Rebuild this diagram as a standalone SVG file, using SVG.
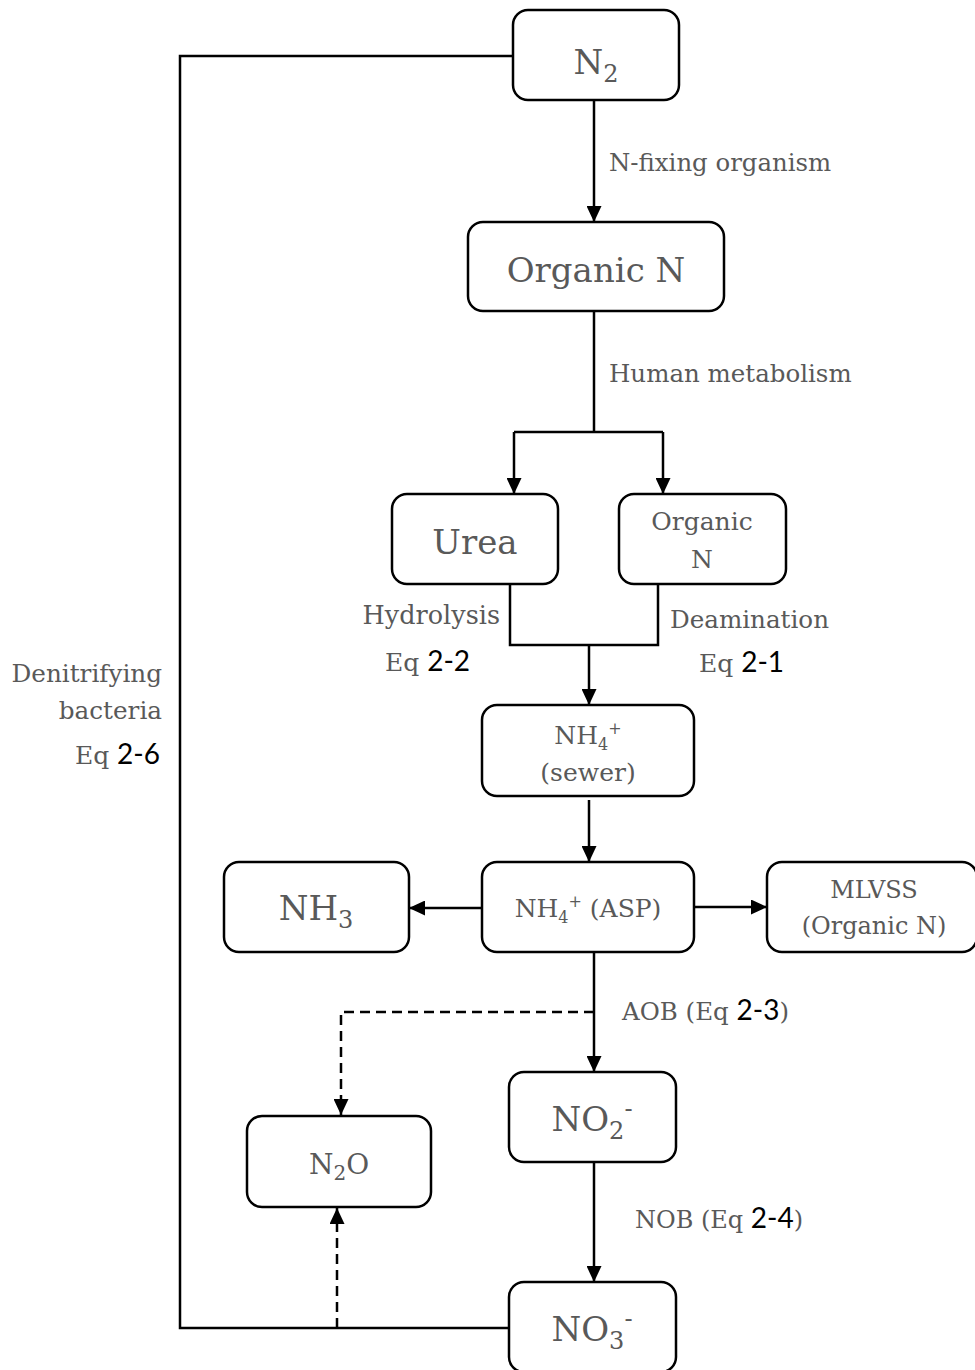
<svg xmlns="http://www.w3.org/2000/svg" width="975" height="1370" viewBox="0 0 975 1370">
<defs>
<marker id="ah" viewBox="0 0 16 15" refX="16" refY="7.5" markerWidth="16" markerHeight="15" markerUnits="userSpaceOnUse" orient="auto">
<path d="M0,0 L16,7.5 L0,15 z" fill="#000"/>
</marker>
<style>
.box{fill:#fff;stroke:#000;stroke-width:2.5}
.ln{fill:none;stroke:#000;stroke-width:2.5}
.dash{fill:none;stroke:#000;stroke-width:2.5;stroke-dasharray:10,6}
.t{font-family:"DejaVu Serif","Liberation Serif",serif;fill:#595959}
.n{font-family:Lato,"Open Sans","Liberation Sans",sans-serif;fill:#000;font-size:28px}
</style>
</defs>
<rect width="975" height="1370" fill="#fff"/>
<g id="connectors">
<path class="ln" d="M594,100 V222" marker-end="url(#ah)"/>
<path class="ln" d="M594,311 V432"/>
<path class="ln" d="M514,432 H663"/>
<path class="ln" d="M514,432 V494" marker-end="url(#ah)"/>
<path class="ln" d="M663,432 V494" marker-end="url(#ah)"/>
<path class="ln" d="M510,584 V645 H658 V584"/>
<path class="ln" d="M589,645 V705" marker-end="url(#ah)"/>
<path class="ln" d="M589,800 V862" marker-end="url(#ah)"/>
<path class="ln" d="M482,908 H409" marker-end="url(#ah)"/>
<path class="ln" d="M694,907 H767" marker-end="url(#ah)"/>
<path class="ln" d="M594,952 V1072" marker-end="url(#ah)"/>
<path class="dash" d="M594,1012 H341 V1115" marker-end="url(#ah)"/>
<path class="ln" d="M594,1162 V1282" marker-end="url(#ah)"/>
<path class="dash" d="M337,1328 V1208" marker-end="url(#ah)"/>
<path class="ln" d="M509,1328 H180 V56 H513"/>
</g>
<g id="n2">
<rect class="box" x="513" y="10" width="166" height="90" rx="15"/>
<text class="t" x="596" y="74" font-size="34" text-anchor="middle">N<tspan font-size="24" dy="8">2</tspan></text>
</g>
<g id="organic-n">
<rect class="box" x="468" y="222" width="256" height="89" rx="15"/>
<text class="t" x="596" y="282" font-size="34" text-anchor="middle">Organic N</text>
</g>
<g id="urea">
<rect class="box" x="392" y="494" width="166" height="90" rx="15"/>
<text class="t" x="475" y="554" font-size="34" text-anchor="middle">Urea</text>
</g>
<g id="organic-n2">
<rect class="box" x="619" y="494" width="167" height="90" rx="15"/>
<text class="t" x="702" y="530" font-size="25" text-anchor="middle">Organic</text>
<text class="t" x="702" y="568" font-size="25" text-anchor="middle">N</text>
</g>
<g id="nh4-sewer">
<rect class="box" x="482" y="705" width="212" height="91" rx="15"/>
<text class="t" x="588" y="744" font-size="25" text-anchor="middle">NH<tspan font-size="16" dy="6">4</tspan><tspan font-size="16" dy="-16">+</tspan></text>
<text class="t" x="588" y="781" font-size="25" text-anchor="middle">(sewer)</text>
</g>
<g id="nh4-asp">
<rect class="box" x="482" y="862" width="212" height="90" rx="15"/>
<text class="t" x="588" y="917" font-size="25" text-anchor="middle">NH<tspan font-size="16" dy="6">4</tspan><tspan font-size="16" dy="-16">+</tspan><tspan dy="10"> (ASP)</tspan></text>
</g>
<g id="nh3">
<rect class="box" x="224" y="862" width="185" height="90" rx="15"/>
<text class="t" x="316" y="920" font-size="34" text-anchor="middle">NH<tspan font-size="24" dy="8">3</tspan></text>
</g>
<g id="mlvss">
<rect class="box" x="767" y="862" width="210" height="90" rx="15"/>
<text class="t" x="874" y="898" font-size="24" text-anchor="middle">MLVSS</text>
<text class="t" x="874" y="934" font-size="24" text-anchor="middle">(Organic N)</text>
</g>
<g id="no2">
<rect class="box" x="509" y="1072" width="167" height="90" rx="15"/>
<text class="t" x="592" y="1131" font-size="34" text-anchor="middle">NO<tspan font-size="24" dy="8">2</tspan><tspan font-size="24" dy="-22">-</tspan></text>
</g>
<g id="n2o">
<rect class="box" x="247" y="1116" width="184" height="91" rx="15"/>
<text class="t" x="339" y="1174" font-size="28" text-anchor="middle">N<tspan font-size="20" dy="6">2</tspan><tspan dy="-6">O</tspan></text>
</g>
<g id="no3">
<rect class="box" x="509" y="1282" width="167" height="90" rx="15"/>
<text class="t" x="592" y="1341" font-size="34" text-anchor="middle">NO<tspan font-size="24" dy="8">3</tspan><tspan font-size="24" dy="-22">-</tspan></text>
</g>
<g id="labels">
<text class="t" x="609" y="171" font-size="24.4">N-fixing organism</text>
<text class="t" x="609" y="382" font-size="24.5">Human metabolism</text>
<text class="t" x="500" y="624" font-size="25.5" text-anchor="end">Hydrolysis</text>
<text class="t" x="385" y="671" font-size="25">Eq <tspan class="n">2-2</tspan></text>
<text class="t" x="670" y="628" font-size="24.6">Deamination</text>
<text class="t" x="699" y="672" font-size="25">Eq <tspan class="n">2-1</tspan></text>
<text class="t" x="622" y="1020" font-size="24.5">AOB (Eq <tspan class="n">2-3</tspan>)</text>
<text class="t" x="635" y="1228" font-size="24">NOB (Eq <tspan class="n">2-4</tspan>)</text>
<text class="t" x="162" y="682" font-size="24.7" text-anchor="end">Denitrifying</text>
<text class="t" x="162" y="719" font-size="24.7" text-anchor="end">bacteria</text>
<text class="t" x="160" y="764" font-size="25" text-anchor="end">Eq <tspan class="n">2-6</tspan></text>
</g>
</svg>
